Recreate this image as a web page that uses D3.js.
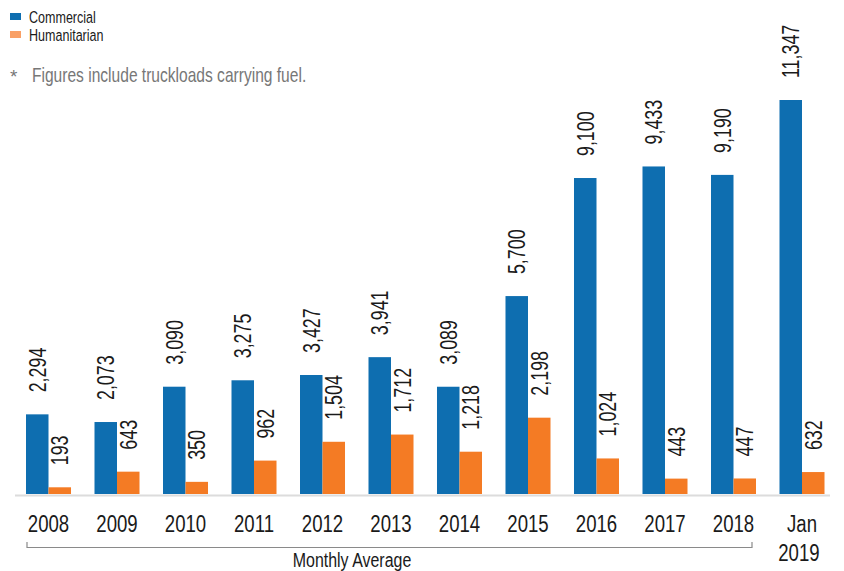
<!DOCTYPE html>
<html>
<head>
<meta charset="utf-8">
<script src="https://cdn.jsdelivr.net/npm/d3@7"></script>
<style>
  body { margin: 0; background: #fff; }
  svg text { font-family: "Liberation Sans", Arial, sans-serif; }
</style>
</head>
<body>
<div id="chart_div"></div>
<script>
// data
var categories = ["2008","2009","2010","2011","2012","2013","2014","2015","2016","2017","2018","Jan 2019"];
var commercial = [2294, 2073, 3090, 3275, 3427, 3941, 3089, 5700, 9100, 9433, 9190, 11347];
var humanitarian = [193, 643, 350, 962, 1504, 1712, 1218, 2198, 1024, 443, 447, 632];
var seriesNames = ["Commercial", "Humanitarian"];

var width = 844, height = 571;
var baseY = 494, topY = 100;
var sq = 0.76; // horizontal squeeze, the original uses a condensed face

var blue = "#0e6eb0", orange = "#f47b24";

var svg = d3.select("#chart_div").append("svg")
	.attr("width", width)
	.attr("height", height);

// scales
var x = d3.scaleBand().domain(categories).range([26, 824.5]).paddingInner(0.343).paddingOuter(0);
var xs = d3.scaleBand().domain(seriesNames).range([0, x.bandwidth()]);
var y = d3.scaleLinear().domain([0, d3.max(commercial)]).range([baseY, topY]);

var rows = categories.map(function(c, i) {
	return {cat: c, vals: [{s: "Commercial", v: commercial[i]}, {s: "Humanitarian", v: humanitarian[i]}]};
});

// axis baseline
svg.append("line")
	.attr("x1", 15).attr("x2", 830)
	.attr("y1", baseY + 1.5).attr("y2", baseY + 1.5)
	.style("stroke", "#dcdcdc").style("stroke-width", 2);

var g = svg.selectAll(".grp").data(rows).enter().append("g")
	.attr("class", "grp")
	.attr("transform", function(d) { return "translate(" + x(d.cat) + ",0)"; });

g.selectAll("rect").data(function(d) { return d.vals; }).enter().append("rect")
	.attr("x", function(d) { return xs(d.s); })
	.attr("width", xs.bandwidth())
	.attr("y", function(d) { return y(d.v); })
	.attr("height", function(d) { return baseY - y(d.v); })
	.style("fill", function(d) { return d.s == "Commercial" ? blue : orange; });

// rotated value labels
g.selectAll("text.val").data(function(d) { return d.vals; }).enter().append("text")
	.attr("class", "val")
	.attr("transform", function(d) {
		return "translate(" + (xs(d.s) + xs.bandwidth() / 2 + 8.5) + "," + (y(d.v) - 22) + ") rotate(-90) scale(" + sq + ",1)";
	})
	.style("font-size", "23.5px")
	.style("fill", "#1a1a1a")
	.text(function(d) { return d3.format(",")(d.v); });

// category labels (custom axis)
var xAxis = d3.axisBottom(x).tickSize(0).tickPadding(0);
var ax = svg.append("g").attr("transform", "translate(0," + baseY + ")").call(xAxis);
ax.select(".domain").remove();
ax.selectAll(".tick text").remove();
ax.selectAll(".tick").append("text")
	.attr("text-anchor", "middle")
	.attr("transform", "scale(" + sq + ",1)")
	.style("font-size", "24.5px")
	.style("fill", "#1a1a1a")
	.each(function(d) {
		var parts = d.split(" ");
		var t = d3.select(this);
		parts.forEach(function(p, i) {
			t.append("tspan").attr("x", -4 * i).attr("y", 38 + i * 29).text(p);
		});
	});

// bracket for monthly average
var bx1 = x("2008") + 1, bx2 = x("2018") + x.bandwidth() - 4;
svg.append("path")
	.attr("d", "M" + bx1 + ",542 V547.5 H" + bx2 + " V542")
	.style("fill", "none").style("stroke", "#8a8a8a").style("stroke-width", 1.2);
svg.append("text")
	.attr("transform", "translate(352,567) scale(" + sq + ",1)")
	.attr("text-anchor", "middle")
	.style("font-size", "21px").style("fill", "#1a1a1a")
	.text("Monthly Average");

// legend
var legendColors = [blue, "#f9a066"];
var leg = svg.selectAll(".legend").data(seriesNames).enter().append("g")
	.attr("class", "legend")
	.attr("transform", function(d, i) { return "translate(10," + (13 + i * 18) + ")"; });
leg.append("rect").attr("width", 11).attr("height", 7)
	.style("fill", function(d, i) { return legendColors[i]; });
leg.append("text")
	.attr("transform", "translate(19,9.5) scale(" + sq + ",1)")
	.style("font-size", "16.5px").style("fill", "#1a1a1a")
	.text(function(d) { return d; });

// footnote
svg.append("text").attr("x", 10).attr("y", 83)
	.style("font-size", "19px").style("fill", "#777")
	.text("*");
svg.append("text")
	.attr("transform", "translate(32,82) scale(" + sq + ",1)")
	.style("font-size", "20.5px").style("fill", "#777")
	.text("Figures include truckloads carrying fuel.");
</script>
</body>
</html>
